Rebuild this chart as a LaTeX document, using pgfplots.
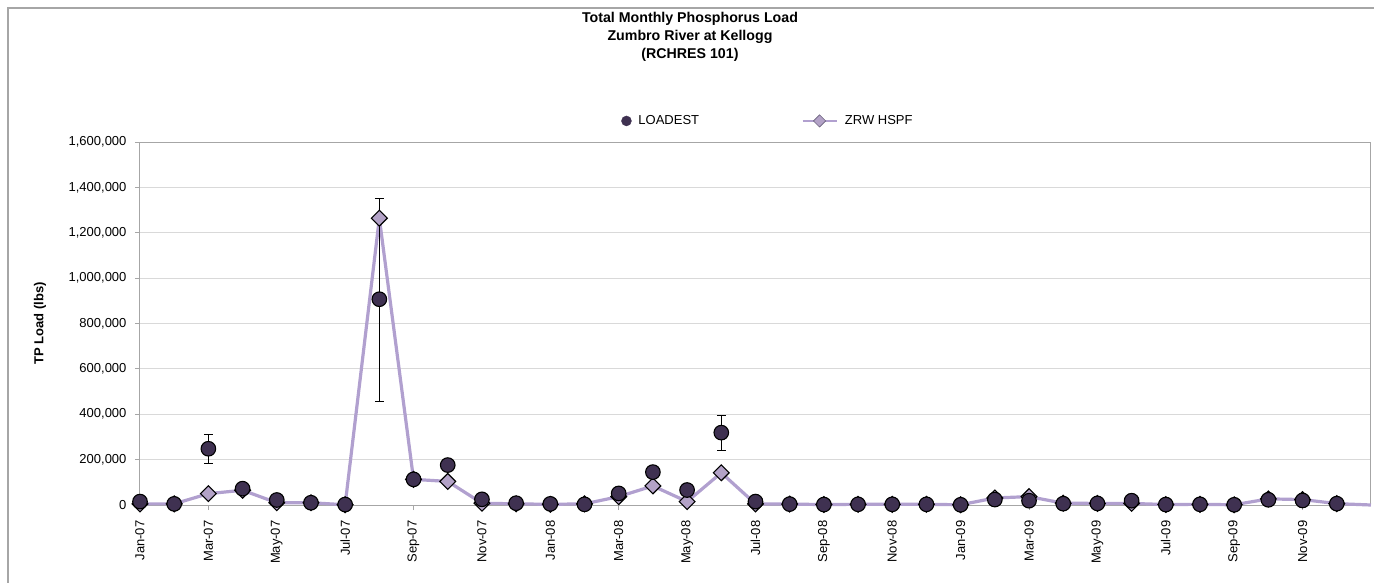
\documentclass[border=0pt]{standalone}
\usepackage{fontspec}
\setmainfont{Liberation Sans}
\usepackage{pgfplots}
\usepackage{pgfplotstable}
\pgfplotsset{compat=1.18}
\definecolor{loadc}{HTML}{3F3151}
\definecolor{zrwline}{HTML}{B1A0CF}
\definecolor{zrwfill}{HTML}{B3A2C7}
\definecolor{gridc}{HTML}{D9D9D9}
\definecolor{axc}{HTML}{A6A6A6}
\pgfplotsset{zrwlegend/.style={legend image code/.code={\draw[##1, mark repeat=2, mark phase=2] plot coordinates {(0pt,0pt) (17pt,0pt) (34pt,0pt)};}}}

\pgfplotstableread{
x y ep em
0 15000 0 0
1 5000 0 0
2 248000 65000 63000
3 72000 0 0
4 22000 0 0
5 10000 0 0
6 2000 0 0
7 907000 445000 449000
8 113000 0 0
9 176000 0 0
10 25000 0 0
11 8000 0 0
12 5000 0 0
13 3000 0 0
14 51000 0 0
15 145000 0 0
16 66000 0 0
17 319000 76000 77000
18 15000 0 0
19 4000 0 0
20 2000 0 0
21 3000 0 0
22 3000 0 0
23 3000 0 0
24 1000 0 0
25 24000 0 0
26 19000 0 0
27 6000 0 0
28 7000 0 0
29 19000 0 0
30 2000 0 0
31 3000 0 0
32 1000 0 0
33 23000 0 0
34 20000 0 0
35 6000 0 0
}\loadest

\pgfplotstableread{
x y
0 5000
1 5000
2 50000
3 65000
4 10000
5 10000
6 1000
7 1264000
8 113000
9 104000
10 8000
11 5000
12 3000
13 5000
14 37000
15 84000
16 15000
17 142000
18 5000
19 4000
20 2000
21 3000
22 3000
23 3000
24 1000
25 31000
26 37000
27 8000
28 7000
29 7000
30 2000
31 3000
32 1000
33 27000
34 24000
35 6000
36 0
}\zrw

\begin{document}
\begin{tikzpicture}
\useasboundingbox (-140pt,-77pt) rectangle (1234pt,505pt);
\draw[axc, line width=1.2pt] (-132pt,-90pt) -- (-132pt,497pt) -- (1240pt,497pt);
\begin{axis}[
  at={(0pt,0pt)}, anchor=south west,
  scale only axis, width=1231pt, height=363pt,
  xmin=0, xmax=36, ymin=0, ymax=1600000,
  clip=false,
  axis line style={axc, line width=1pt},
  ymajorgrids, grid style={gridc, line width=0.9pt},
  xtick={0,2,...,34},
  xticklabels={Jan-07,Mar-07,May-07,Jul-07,Sep-07,Nov-07,Jan-08,Mar-08,May-08,Jul-08,Sep-08,Nov-08,Jan-09,Mar-09,May-09,Jul-09,Sep-09,Nov-09},
  ytick={0,200000,...,1600000},
  scaled y ticks=false,
  yticklabel style={font=\fontsize{13}{15}\selectfont, xshift=-5pt, /pgf/number format/.cd, fixed, 1000 sep={,}, assume math mode=true},
  xticklabel style={font=\fontsize{13}{15}\selectfont, rotate=90, anchor=east, xshift=-7pt},
  tick align=outside, major tick length=5pt,
  tick style={axc, line width=0.9pt},
  xtick pos=bottom, ytick pos=left,
  ylabel={\bfseries TP Load (lbs)},
  ylabel style={font=\fontsize{13}{15}\selectfont, at={(axis description cs:-0.0812,0.5)}, anchor=center},
  legend columns=2,
  legend style={draw=none, fill=none, at={(axis description cs:0.5102,1.058)}, anchor=center,
    font=\fontsize{13}{15}\selectfont,
    /tikz/every odd column/.append style={column sep=5pt},
    /tikz/every even column/.append style={column sep=100pt}},
  error bars/error bar style={black, line width=0.8pt},
  error bars/error mark options={rotate=90, black, line width=0.8pt, mark size=4.5pt},
]
\addplot[zrwline, line width=3.2pt, forget plot] table[x=x,y=y] {\zrw};
\addplot[only marks, mark=square*, mark size=5.6pt, mark options={rotate=45, fill=zrwfill, draw=black, line width=1.1pt}, restrict x to domain=0:35, forget plot] table[x=x,y=y] {\zrw};
\addplot[only marks, mark=*, mark size=7.3pt, mark options={fill=loadc, draw=black, line width=1.1pt}, forget plot,
  error bars/.cd, y dir=both, y explicit] table[x=x, y=y, y error plus=ep, y error minus=em] {\loadest};
\addlegendimage{only marks, mark=*, mark size=5pt, mark options={fill=loadc, draw=loadc}}
\addlegendentry{LOADEST}
\addlegendimage{zrwline, line width=2.8pt, mark=square*, mark size=4.3pt, mark options={rotate=45, fill=zrwfill, draw=zrwline!60!black, line width=0.6pt}, zrwlegend}
\addlegendentry{ZRW HSPF}
\end{axis}
\node[font=\bfseries\fontsize{14.2}{18}\selectfont, align=center, anchor=north] at (550pt,496pt)
  {Total Monthly Phosphorus Load\\Zumbro River at Kellogg\\(RCHRES 101)};
\end{tikzpicture}
\end{document}
